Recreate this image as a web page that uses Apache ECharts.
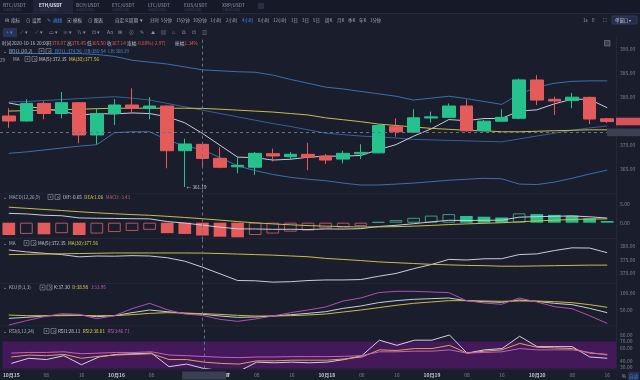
<!DOCTYPE html>
<html><head><meta charset="utf-8">
<script src="https://cdn.jsdelivr.net/npm/echarts@6/dist/echarts.min.js"></script>
<style>html,body{margin:0;padding:0;background:#1a1d2c;}#c{width:640px;height:380px;}</style>
</head><body><div id="c"></div>
<script>
const categories = [
'2020-10-15 00:00','2020-10-15 04:00','2020-10-15 08:00','2020-10-15 12:00','2020-10-15 16:00','2020-10-15 20:00',
'2020-10-16 00:00','2020-10-16 04:00','2020-10-16 08:00','2020-10-16 12:00','2020-10-16 16:00','2020-10-16 20:00',
'2020-10-17 00:00','2020-10-17 04:00','2020-10-17 08:00','2020-10-17 12:00','2020-10-17 16:00','2020-10-17 20:00',
'2020-10-18 00:00','2020-10-18 04:00','2020-10-18 08:00','2020-10-18 12:00','2020-10-18 16:00','2020-10-18 20:00',
'2020-10-19 00:00','2020-10-19 04:00','2020-10-19 08:00','2020-10-19 12:00','2020-10-19 16:00','2020-10-19 20:00',
'2020-10-20 00:00','2020-10-20 04:00','2020-10-20 08:00','2020-10-20 12:00','2020-10-20 16:00'];
const opens  = [375.98,374.94,378.6,376.5,378.75,372.02,376.54,378.27,377.58,378.06,368.75,370.07,367.16,365.4,365.3,368.13,367.5,368.0,367.65,367.0,368.1,368.3,373.75,372.6,375.56,375.7,378.06,372.9,374.9,375.5,383.48,379.46,379.2,379.86,375.4];
const closes = [374.94,378.6,376.5,378.75,372.02,376.5,378.27,377.58,378.06,368.75,370.15,367.14,365.3,365.7,368.2,367.65,368.0,367.4,366.8,368.2,368.4,374.0,372.7,375.6,375.8,378.06,372.9,374.9,375.7,383.5,379.3,379.1,379.9,375.35,374.83];
const lows   = [373.5,374.8,375.3,375.5,370.3,370.1,374.1,376.54,375.3,365.08,361.19,365.5,365.1,364.04,363.7,366.5,366.8,364.7,366.0,366.1,367.0,368.2,371.67,372.4,374.6,375.6,372.7,372.8,374.8,375.3,378.27,376.2,377.6,374.3,374.5];
const highs  = [377.6,379.5,379.0,381.0,378.9,377.6,379.5,381.75,379.9,378.2,371.25,370.45,369.46,367.5,368.5,369.2,368.5,370.4,368.06,368.75,370.1,374.3,375.5,377.4,376.9,378.6,379.46,375.15,377.4,383.8,384.5,380.0,380.8,380.0,375.6];
const bollUp  = [389.0,389.0,389.0,389.0,389.0,388.8,388.4,387.6,387.2,386.8,386.2,385.6,385.4,385.2,385.1,384.5,383.6,382.8,382.0,381.6,381.1,380.6,380.1,379.3,379.7,380.1,379.6,379.0,378.4,380.5,382.0,382.8,383.2,383.3,383.3];
const bollMid = [378.9,379.0,379.2,379.4,379.6,379.8,380.0,379.7,379.3,378.6,377.9,377.2,376.5,375.8,375.1,374.4,373.8,373.1,372.4,372.1,371.8,371.6,371.4,371.1,371.0,370.9,370.8,370.7,370.6,371.2,371.8,372.4,373.0,373.5,373.9];
const bollLow = [368.2,368.5,368.9,369.3,369.7,370.0,372.5,372.7,372.7,371.0,369.7,369.0,367.3,365.6,364.6,363.8,363.2,362.8,362.5,362.0,361.6,361.6,361.8,362.0,362.3,362.6,362.8,363.0,362.9,361.8,361.7,362.2,363.0,363.9,364.7];
const ma5  = [378.7,378.0,377.5,377.0,376.16,376.47,376.41,376.62,376.49,375.83,374.56,372.35,369.88,367.41,367.30,366.80,366.97,367.39,367.61,367.61,367.76,368.96,370.02,371.78,373.30,375.23,375.01,375.45,375.47,377.01,377.26,378.50,379.50,379.43,377.70];
const ma30 = [377.0,377.1,377.2,377.3,377.4,377.5,377.6,377.6,377.6,377.6,377.6,377.56,377.4,377.2,377.0,376.8,376.5,376.2,375.6,375.2,374.8,374.3,374.0,373.7,373.4,373.2,373.0,372.9,372.7,372.7,372.8,372.9,373.0,373.1,373.1];
const macdHist = [-3.3,-3.0,-3.1,-2.8,-3.3,-2.9,-2.5,-2.2,-1.9,-2.8,-3.0,-3.42,-3.75,-3.9,-3.3,-2.9,-2.4,-2.1,-1.5,-1.3,-0.9,0.2,0.7,1.3,1.9,2.3,1.8,1.6,1.4,2.5,2.3,2.1,1.9,1.2,0.45];
const dif = [2.50,2.35,1.99,1.86,1.28,1.19,1.14,1.07,1.03,0.30,-0.10,-0.65,-1.19,-1.65,-1.68,-1.77,-1.76,-1.82,-1.67,-1.70,-1.59,-1.02,-0.70,-0.27,0.22,0.65,0.58,0.64,0.68,1.48,1.61,1.72,1.81,1.58,1.24];
const dea = [4.15,3.85,3.54,3.26,2.93,2.64,2.39,2.17,1.98,1.70,1.40,1.06,0.69,0.30,-0.03,-0.32,-0.56,-0.77,-0.92,-1.05,-1.14,-1.12,-1.05,-0.92,-0.73,-0.50,-0.32,-0.16,-0.02,0.23,0.46,0.67,0.86,0.98,1.02];
const kdjK = [25,28,32,35,35,30,33,42,50,45,40,37.3,32,28,29,32,36,40,45,55,62,72,78,82,84,86,78,75,73,80,76,70,66,55,42];
const kdjD = [35,33,33,33,34,33,33,36,40,42,41,38.98,37,34,32,32,33,35,38,44,50,57,64,70,74,78,78,77,76,77,77,75,72,66,58];
const kdjJ = [5,18,30,39,37,24,33,54,70,51,38,33.95,22,16,23,32,42,50,59,77,86,102,106,106,104,102,78,71,67,86,74,60,54,33,10];
const rsi1 = [36,44,42,48,34,46,50,51,52,31,35,28.11,25,24,38,37,38,37,38,42,48,72,64,72,72,80,52,57,59,78,62,62,62,46,44];
const rsi2 = [46,49,48,50,44,47,49,50,51,42,42,38.01,36,35,40,40,41,41,41,43,46,57,56,59,59,64,52,55,57,67,61,60,59,52,50];
const rsi3 = [52,53,53,54,51,52,53,53,54,49,48,46.71,45.5,45,46,46,46.5,46.5,46.5,47,48,54,54,55,55,57,52,53,54,59,57,57,57,53,49];
const mainTicks = [365,370,375,380,385,390];
const macdTicks = [0,5];
const maTicks = [370,375,380];
const kdjTicks = [50,100];
const rsiTicks = [30,40,60,70,80];
const crossIndex = 11, crossPrice = 372.56, lowMark = 361.19;

const FF = '"Noto Sans CJK SC","Noto Sans",sans-serif';
const BG = '#1a1d2c', AX = '#7d8296';
const UP = '#26c28d', DN = '#e45b5b';
const WHITE = '#c9ccd8', YEL = '#c8bd48', PUR = '#b250b5', BLUE = '#3b6fae';

const GL = -4, GW = 620;
const grids = [
  {left: GL, width: GW, top: 36.7, height: 156},
  {left: GL, width: GW, top: 194.65, height: 44.88},
  {left: GL, width: GW, top: 238.4, height: 45.9},
  {left: GL, width: GW, top: 283.3, height: 43.4},
  {left: GL, width: GW, top: 325.96, height: 42.64}
];
const yCfg = [
  {min: 360, max: 392.5, interval: 5, ticks: mainTicks},
  {min: -4.5, max: 7.5, interval: 0.5, ticks: macdTicks},
  {min: 366, max: 383, interval: 1, ticks: maTicks},
  {min: 0, max: 130, interval: 10, ticks: kdjTicks},
  {min: 28, max: 94, interval: 1, ticks: rsiTicks}
];

const chart = echarts.init(document.getElementById('c'), null, {width: 640, height: 380});

function line(name, data, color, xi, extra) {
  return Object.assign({name, type: 'line', xAxisIndex: xi, yAxisIndex: xi, data, symbol: 'none', showSymbol: false,
    lineStyle: {color, width: 1}, itemStyle: {color}, z: 3, silent: true}, extra || {});
}
const vCross = {symbol: 'none', silent: true, label: {show: false}, lineStyle: {type: [3, 3], color: '#6b7084', width: 1},
  data: [{xAxis: categories[crossIndex]}]};

const macdData = macdHist.map((v, i) => {
  const filled = i === 0 || v < macdHist[i - 1];
  const c = v >= 0 ? UP : DN;
  const hc = v >= 0 ? '#3d9c80' : '#b45462';
  return {value: v, itemStyle: filled ? {color: c, borderColor: c, borderWidth: 0} : {color: 'rgba(0,0,0,0)', borderColor: hc, borderWidth: 1}};
});

function txt(x, y, t, color, size, weight) {
  return {type: 'text', x, y, silent: true, z: 100,
    style: {text: t, fill: color, fontSize: size || 4.6, fontFamily: FF, fontWeight: weight || 'normal', verticalAlign: 'middle'}};
}
const mctx = document.createElement('canvas').getContext('2d');
function flow(x, y, segs, size, gap) {
  const out = [];
  let cx = x;
  segs.forEach(s => {
    out.push(txt(cx, y, s[0], s[1], size, s[2]));
    mctx.font = (size || 4.6) + 'px ' + FF;
    cx += mctx.measureText(s[0]).width + (gap || 0);
  });
  return out;
}
function boxes(x, y) {
  return [
    {type: 'rect', shape: {x: x, y: y - 2.5, width: 5, height: 5}, style: {fill: 'none', stroke: '#8e93a6', lineWidth: 0.6}, z: 100, silent: true},
    {type: 'rect', shape: {x: x + 1.8, y: y - 0.7, width: 1.4, height: 1.4}, style: {fill: '#8e93a6'}, z: 100, silent: true},
    {type: 'rect', shape: {x: x + 7, y: y - 2.5, width: 5, height: 5}, style: {fill: 'none', stroke: '#8e93a6', lineWidth: 0.6}, z: 100, silent: true},
    txt(x + 7.9, y, '×', '#8e93a6', 4.6)
  ];
}

const G = [];
G.push({type: 'rect', shape: {x: 0, y: 0, width: 640, height: 13}, style: {fill: '#161928'}, silent: true, z: 90});
G.push({type: 'rect', shape: {x: 33, y: 0, width: 40, height: 13}, style: {fill: '#20243a'}, silent: true, z: 90});
['BTC/USDT', 'ETH/USDT', 'BCH/USDT', 'ETC/USDT', 'LTC/USDT', 'EOS/USDT', 'XRP/USDT'].forEach((t, i) => {
  const x = [3, 39, 76, 112, 148, 184, 222][i];
  G.push(txt(x, 5, t, i === 1 ? '#e4e6ee' : '#6c7185', 4.6, 'bold'));
  G.push(txt(x, 10, '永续合约交易', '#3d4256', 3));
});
G.push({type: 'rect', shape: {x: 258, y: 3, width: 6, height: 6}, style: {fill: '#2a2e42'}, silent: true, z: 100});
G.push({type: 'rect', shape: {x: 0, y: 13, width: 640, height: 1}, style: {fill: '#25293b'}, silent: true, z: 90});
const r2 = [['⊟', 5], ['指标', 11], ['⊙', 26], ['设置', 32], ['✎', 47], ['画线', 53], ['▣', 67], ['模板', 73], ['⊙', 88], ['图表', 94]];
r2.forEach(([t, x]) => G.push(txt(x, 20, t, (x === 47 || x === 53) ? '#3c8cf0' : '#aeb2c2', 4.6)));
G.push(txt(115, 20, '自定义周期  ▾', '#aeb2c2', 4.6));
const periods = ['分时', '5分钟', '15分钟', '30分钟', '1小时', '2小时', '4小时', '6小时', '12小时', '1日', '3日', '5日', '周K', '月K', '季K', '年K', '1分钟'];
const px = [150, 161, 176, 193, 210, 226, 242, 258, 273, 291, 302, 313, 325, 337, 348, 359, 370];
periods.forEach((t, i) => G.push(txt(px[i], 20, t, t === '4小时' ? '#3c8cf0' : '#9ea3b5', 4.4)));
G.push(txt(583, 20, '1s', '#9ea3b5', 4.6));
G.push(txt(592, 20, '⁞⁞', '#9ea3b5', 5));
G.push(txt(603, 20, '⛶', '#9ea3b5', 5));
G.push({type: 'rect', shape: {x: 612, y: 16, width: 25, height: 8, r: 1}, style: {fill: '#252c48', stroke: '#3a4a7a', lineWidth: 0.6}, silent: true, z: 100});
G.push(txt(615, 20, '单窗口 ▾', '#c5c9d8', 4.4));
G.push({type: 'rect', shape: {x: 3, y: 28, width: 14, height: 9}, style: {fill: '#2a3354'}, silent: true, z: 100});
const icons = [['+ ▾', 6, '#3c8cf0'], ['⟋ ▾', 20], ['⟋ ▾', 35], ['▭ ▾', 49], ['≡ ▾', 63], ['½ ▾', 77], ['⊡ ▾', 92], ['Aa', 107], ['⊞', 118], ['⊘', 129], ['✎', 140], ['⛰', 151], ['▤', 161], ['⌂', 172], ['⧉', 182], ['⊡', 192], ['▥', 202]];
icons.forEach(([t, x, c]) => G.push(txt(x, 32.5, t, c || '#8e93a6', 5)));
const GR = '#b9bdcb';
[['时间2020-10-16 20:00', 2, GR], ['开', 47, GR], ['370.07', 51.5, DN], ['高', 67, GR], ['370.45', 71.5, DN], ['低', 87, GR], ['365.50', 91.5, DN],
 ['收', 107, GR], ['367.14', 111.5, DN], ['涨幅', 127, GR], ['-0.80%(-2.97)', 136.5, DN], ['振幅', 175, GR], ['1.34%', 184.5, DN]]
  .forEach(([t, x, c]) => G.push(txt(x, 43, t, c, 4.7)));
G.push({type: 'rect', shape: {x: 604.5, y: 40.5, width: 5.5, height: 5.5}, style: {fill: '#3a3f52', stroke: '#8e93a6', lineWidth: 0.5}, z: 100, silent: true});
G.push(txt(3, 51, '⌄  BOLL(20,2)', '#aeb2c2', 4.6));
G.push(...boxes(39, 51));
G.push(...flow(55, 51, [['BOLL:374.96', '#4a85cc'], ['UB:380.54', '#4a85cc'], ['LB:368.29', '#4a85cc']], 4.6, 2.5));
G.push(txt(13, 59, 'MA', '#aeb2c2', 4.6));
G.push(...boxes(25, 59));
G.push(...flow(39, 59, [['MA(5):372.35', WHITE], ['MA(30):377.56', '#e0d24a']], 4.6, 2.5));
G.push(txt(0, 60, '29', '#aeb2c2', 4.4));
G.push(txt(3, 197, '⌄  MACD(12,26,9)', '#aeb2c2', 4.6));
G.push(...boxes(48, 197));
G.push(...flow(63, 197, [['DIF:-0.65', WHITE], ['DEA:1.06', '#e0d24a'], ['MACD:-3.43', '#c0606c']], 4.6, 2.5));
G.push(txt(3, 243, '⌄  MA', '#aeb2c2', 4.6));
G.push(...boxes(24, 243));
G.push(...flow(38, 243, [['MA(5):372.35', WHITE], ['MA(30):377.56', '#e0d24a']], 4.6, 2.5));
G.push(txt(3, 287.5, '⌄  KDJ(9,3,3)', '#aeb2c2', 4.6));
G.push(...boxes(40, 287.5));
G.push(...flow(54, 287.5, [['K:37.30', WHITE], ['D:38.98', '#e0d24a'], ['J:33.95', '#c060c4']], 4.6, 2.5));
G.push(txt(3, 331, '⌄  RSI(6,12,24)', '#aeb2c2', 4.6));
G.push(...boxes(44, 331));
G.push(...flow(58, 331, [['RSI1:28.11', WHITE], ['RSI2:38.01', '#e0d24a'], ['RSI3:46.71', '#c060c4']], 4.6, 2.5));
[193.5, 238, 283, 325.5, 368.8].forEach(y => G.push({type: 'rect', shape: {x: 0, y: y, width: 616, height: 0.8}, style: {fill: '#262a3c'}, silent: true, z: 1}));
G.push({type: 'rect', shape: {x: 616, y: 37, width: 0.8, height: 333}, style: {fill: '#262a3c'}, silent: true, z: 1});
G.push(txt(622, 376, '%', '#9ea3b5', 4.6));
G.push({type: 'rect', shape: {x: 628, y: 372, width: 11, height: 8}, style: {fill: '#24314f'}, silent: true, z: 100});
G.push(txt(629, 376, '自动', '#3c8cf0', 4.4));

const option = {
  backgroundColor: BG,
  animation: false,
  grid: grids,
  xAxis: grids.map((g, i) => ({
    type: 'category', gridIndex: i, data: categories, boundaryGap: true,
    axisLine: {show: false}, axisTick: {show: false}, splitLine: {show: false},
    axisLabel: i === 4 ? {
      show: true, interval: 1, fontSize: 5, color: AX, margin: 4, fontFamily: FF,
      formatter: v => v.slice(11, 13) === '00' ? '{d|' + (+v.slice(5, 7)) + '月' + v.slice(8, 10) + '}' : v.slice(11, 13),
      rich: {d: {fontSize: 5, color: '#c5c8d4', fontWeight: 'bold', fontFamily: FF}}
    } : {show: false}
  })),
  yAxis: yCfg.map((c, i) => ({
    type: 'value', gridIndex: i, position: 'right', min: c.min, max: c.max, interval: c.interval,
    axisLine: {show: false}, axisTick: {show: false}, splitLine: {show: false},
    axisLabel: {fontSize: 5, color: AX, margin: 4, fontFamily: FF, showMinLabel: true, showMaxLabel: true,
      formatter: v => c.ticks.some(t => Math.abs(t - v) < 1e-6) ? v.toFixed(2) : ''}
  })),
  series: [
    {type: 'candlestick', xAxisIndex: 0, yAxisIndex: 0, barWidth: '74%', z: 4,
      data: categories.map((_, i) => [opens[i], closes[i], lows[i], highs[i]]),
      itemStyle: {color: UP, color0: DN, borderColor: UP, borderColor0: DN, borderWidth: 1},
      markPoint: {symbol: 'circle', symbolSize: 0, silent: true,
        label: {show: true, position: 'right', distance: 2, formatter: '← ' + lowMark.toFixed(2), fontSize: 4.6, color: '#c9ccd8', fontFamily: FF},
        data: [{coord: [categories[10], lowMark]}]},
      markLine: {symbol: 'none', silent: true, label: {show: false}, lineStyle: {type: [3, 3], color: '#6b7084', width: 1},
        data: [{xAxis: categories[crossIndex]}, {yAxis: crossPrice}]}
    },
    line('UB', bollUp, BLUE, 0),
    line('BOLL', bollMid, '#35609a', 0),
    line('LB', bollLow, BLUE, 0),
    line('MA5', ma5, WHITE, 0),
    line('MA30', ma30, YEL, 0),
    {type: 'bar', xAxisIndex: 1, yAxisIndex: 1, data: macdData, barWidth: '72%', z: 2, silent: true, markLine: vCross},
    line('DIF', dif, WHITE, 1),
    line('DEA', dea, YEL, 1),
    line('MA5b', ma5, WHITE, 2, {markLine: vCross}),
    line('MA30b', ma30, YEL, 2),
    line('K', kdjK, WHITE, 3, {markLine: vCross}),
    line('D', kdjD, YEL, 3),
    line('J', kdjJ, PUR, 3),
    line('RSI1', rsi1, '#d2d0e6', 4, {markLine: vCross,
      markArea: {silent: true, itemStyle: {color: '#43195a'}, data: [[{yAxis: 28}, {yAxis: 70}]]}}),
    line('RSI2', rsi2, '#d9a64e', 4),
    line('RSI3', rsi3, '#c55fc0', 4)
  ],
  graphic: G
};
chart.setOption(option);

const yLast = chart.convertToPixel({yAxisIndex: 0}, closes[closes.length - 1]);
const yCross = chart.convertToPixel({yAxisIndex: 0}, crossPrice);
const xCross = chart.convertToPixel({xAxisIndex: 4}, categories[crossIndex]);
const extra = [
  {type: 'rect', shape: {x: 616, y: yLast - 3.8, width: 24, height: 7.6}, style: {fill: '#d9525a'}, z: 120, silent: true},
  txt(619.5, yLast, closes[closes.length - 1].toFixed(2), '#ffffff', 4.8),
  {type: 'rect', shape: {x: 607, y: yCross - 3.8, width: 33, height: 7.6}, style: {fill: '#3b3f52'}, z: 120, silent: true},
  txt(609.5, yCross, '⇕', '#c9ccd8', 4.4),
  txt(619.5, yCross, crossPrice.toFixed(2), '#e0e2ea', 4.8),
  {type: 'rect', shape: {x: xCross - 22, y: 371.5, width: 44, height: 8}, style: {fill: '#3b3f52'}, z: 120, silent: true},
  txt(xCross - 19, 375.5, categories[crossIndex] + ':00', '#e0e2ea', 4.8)
];
chart.setOption({graphic: G.concat(extra)});
</script>
</body></html>
